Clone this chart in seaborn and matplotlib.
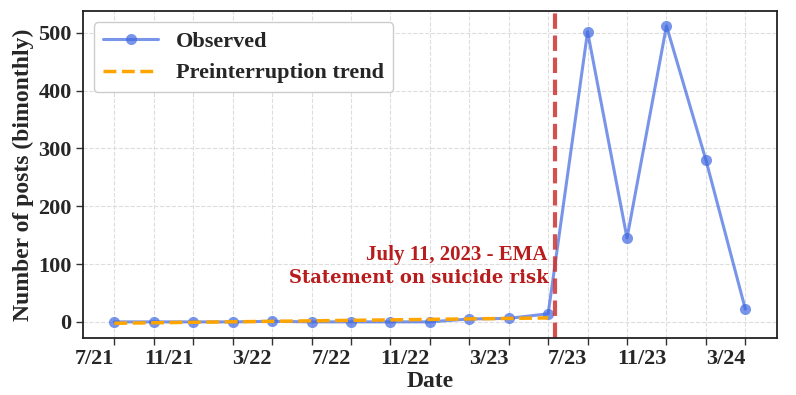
import numpy as np
import pandas as pd
import matplotlib
matplotlib.use("Agg")
import matplotlib.pyplot as plt
import seaborn as sns

# ---- data ----
period_index = list(range(17))
tick_labels = ["7/21", "", "11/21", "", "3/22", "", "7/22", "", "11/22", "",
               "3/23", "", "7/23", "", "11/23", "", "3/24"]
observed = [0, 0, 0, 0, 1, 0, 0, 0, 0, 5, 6, 14, 502, 145, 512, 280, 22]
trend_index = [0, 11]
trend_values = [-2.4, 6.8]
event_position = 11.18
event_line1 = "July 11, 2023 - EMA"
event_line2 = "Statement on suicide risk"

sns.set_theme(style="white")
plt.rcParams["font.family"] = ["Liberation Serif", "DejaVu Serif"]
plt.rcParams["font.weight"] = "bold"

df_obs = pd.DataFrame({"idx": period_index, "posts": observed})
df_tr = pd.DataFrame({"idx": trend_index, "posts": trend_values})

fig = plt.figure(figsize=(7.96, 3.95), dpi=100)
ax = fig.add_axes([0.104, 0.144, 0.872, 0.828])

sns.lineplot(data=df_obs, x="idx", y="posts", ax=ax, color="royalblue", alpha=0.7,
             linewidth=2.2, marker="o", markersize=8, markeredgewidth=0,
             label="Observed")
sns.lineplot(data=df_tr, x="idx", y="posts", ax=ax, color="orange",
             linewidth=2.5, linestyle="--", label="Preinterruption trend")

ax.axvline(event_position, color="#cc3333", alpha=0.85, linestyle="--", linewidth=3)
ax.text(event_position - 0.2, 115, event_line1, color="#b81c1c", fontsize=15,
        fontweight="bold", ha="right", va="center", family="Liberation Serif")
ax.text(event_position - 0.18, 76, event_line2, color="#b81c1c", fontsize=13,
        fontweight="bold", ha="right", va="center", family="DejaVu Serif")

ax.set_xticks(period_index)
ax.set_xticklabels(tick_labels, ha="right")
ax.set_yticks([0, 100, 200, 300, 400, 500])
ax.margins(x=0.05, y=0.05)
ax.tick_params(axis="both", labelsize=16, direction="out", length=5, width=1,
               bottom=True, left=True, color="#333333", pad=3)
for lbl in ax.get_xticklabels() + ax.get_yticklabels():
    lbl.set_fontweight("bold")
ax.set_xlabel("Date", fontsize=17, fontweight="bold", labelpad=1)
ax.set_ylabel("Number of posts (bimonthly)", fontsize=17, fontweight="bold", labelpad=3)
ax.grid(True, linestyle="--", color="#dddddd", linewidth=0.8)
for s in ax.spines.values():
    s.set_color("#222222")
    s.set_linewidth(1.3)

leg = ax.legend(loc="upper left", fontsize=16, frameon=True, fancybox=True,
                edgecolor="#cccccc", framealpha=1, handlelength=2.5)
for t in leg.get_texts():
    t.set_fontweight("bold")

fig.savefig("out.png", dpi=100)
